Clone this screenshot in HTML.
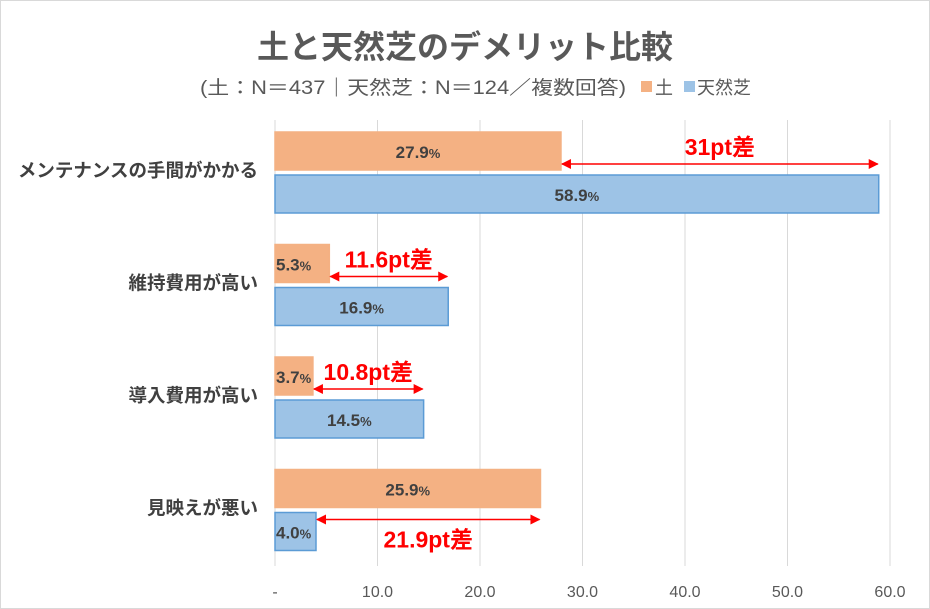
<!DOCTYPE html>
<html><head><meta charset="utf-8"><style>
body{margin:0;background:#fff}
svg{display:block;font-family:"Liberation Sans","Noto Sans CJK JP",sans-serif}
</style></head><body>
<svg id="c" width="930" height="609">
<rect x="0.5" y="0.5" width="929" height="608" fill="#fff" stroke="#d9d9d9"/>
<text x="465" y="58" text-anchor="middle" font-size="32" font-weight="bold" fill="#595959">土と天然芝のデメリット比較</text>
<text x="200" y="94" font-size="19" fill="#595959" textLength="426" lengthAdjust="spacingAndGlyphs">(土：N＝437｜天然芝：N＝124／複数回答)</text>
<rect x="641" y="81" width="11" height="11" fill="#f4b183"/>
<text x="655" y="94" font-size="18" fill="#595959">土</text>
<rect x="684" y="81" width="11" height="11" fill="#9dc3e6"/>
<text x="697" y="94" font-size="18" fill="#595959">天然芝</text>
<g id="grid"></g><g id="bars"></g><g id="ann"></g>
</svg>
<script>
const categories=["メンテナンスの手間がかかる","維持費用が高い","導入費用が高い","見映えが悪い"];
const soil=[27.9,5.3,3.7,25.9];
const grass=[58.9,16.9,14.5,4.0];
const ticks=[0,10,20,30,40,50,60];
const diffLabels=["31pt差","11.6pt差","10.8pt差","21.9pt差"];
const NS="http://www.w3.org/2000/svg";
const x=v=>275+v*10.25;
const gy=i=>132+i*112.5;
function mk(t,a,p){const e=document.createElementNS(NS,t);for(const k in a)e.setAttribute(k,a[k]);p.appendChild(e);return e;}
const grid=document.getElementById('grid'),bars=document.getElementById('bars'),ann=document.getElementById('ann');
ticks.forEach(t=>{
 const l=mk('line',{x1:x(t),x2:x(t),y1:120,y2:566,stroke:'#d9d9d9'},grid);
 
 
 const tx=mk('text',{x:x(t),y:597,'text-anchor':'middle','font-size':16,fill:'#595959'},grid);
 tx.textContent=t===0?'-':t.toFixed(1);
 
 
});
const defs=mk('defs',{},ann);
const m=mk('marker',{id:'ah',viewBox:'0 0 10 10',refX:9,refY:5,markerWidth:8,markerHeight:7,markerUnits:'userSpaceOnUse',orient:'auto-start-reverse'},defs);
m.setAttribute('markerWidth',12);m.setAttribute('markerHeight',10);
mk('path',{d:'M0,0L10,5L0,10z',fill:'#ff0000'},m);
categories.forEach((c,i)=>{
 const y0=gy(i);
 const lab=mk('text',{x:258,y:y0+45,'text-anchor':'end','font-size':18.5,'font-weight':'bold',fill:'#404040'},bars);
 lab.textContent=c;
 
 
 [[soil[i],'#f4b183','#f4b183',y0,'bar-soil'],[grass[i],'#9dc3e6','#5b9bd5',y0+43,'bar-grass']].forEach(([v,f,s,yy,n])=>{
  const r=mk('rect',{x:x(0),y:yy,width:x(v)-x(0),height:38,fill:f,stroke:s,'stroke-width':1.5},bars);
  
  
  const w=x(v)-x(0);
  const t=mk('text',{x:w>70?x(v/2):x(0)+1,y:yy+26,'text-anchor':w>70?'middle':'start','font-size':17,'font-weight':'bold',fill:'#404040'},bars);
  t.innerHTML=v.toFixed(1)+'<tspan font-size="13">%</tspan>';
  
  
 });
 const lo=Math.min(soil[i],grass[i]),hi=Math.max(soil[i],grass[i]);
 const ay=soil[i]<grass[i]?y0+32:y0+50;
 const ln=mk('line',{x1:x(lo)+1,x2:x(hi)-1,y1:ay,y2:ay,stroke:'#ff0000','stroke-width':1.5,'marker-start':'url(#ah)','marker-end':'url(#ah)'},ann);
 
 
 const dt=mk('text',{x:(x(lo)+x(hi))/2,y:i===3?ay+28:ay-9,'text-anchor':'middle','font-size':23,'font-weight':'bold',fill:'#ff0000'},ann);
 dt.textContent=diffLabels[i];
 
 
});
</script>
</body></html>
